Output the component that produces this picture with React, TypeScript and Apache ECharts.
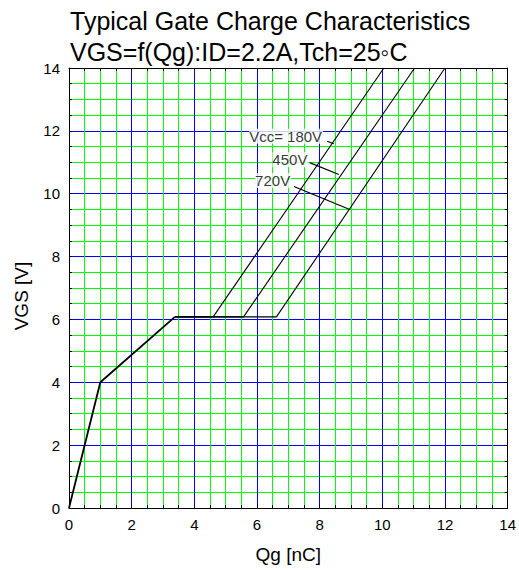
import React, { useEffect, useRef } from "react";
import * as echarts from "echarts";

// Common part of the gate-charge curve (Qg [nC], VGS [V])
const commonPath: number[][] = [
  [0, 0],
  [1, 4],
  [3.38, 6.08],
];
// Plateau end and rise for each Vcc
const vcc180: number[][] = [
  [4.6, 6.08],
  [10.05, 14],
];
const vcc450: number[][] = [
  [5.57, 6.08],
  [11.03, 14],
];
const vcc720: number[][] = [
  [6.62, 6.08],
  [12.0, 14],
];

const labelNames = ["Vcc= 180V", "450V", "720V"];
const labelAnchors: number[][] = [
  [5.75, 11.83],
  [6.49, 11.08],
  [5.94, 10.42],
];
const leaderLines: number[][][] = [
  [
    [8.24, 11.67],
    [8.45, 11.59],
  ],
  [
    [7.68, 10.99],
    [8.61, 10.61],
  ],
  [
    [7.18, 10.23],
    [8.98, 9.49],
  ],
];

const titleLines = [
  "Typical Gate Charge Characteristics",
  "VGS=f(Qg):ID=2.2A,Tch=25\u25E6C",
];
const xName = "Qg [nC]";
const yName = "VGS [V]";

const FONT = "Arial, 'Liberation Sans', Helvetica, sans-serif";
const GRID_COLORS = ["#0000ff", "#00ff00", "#00ff00", "#00ff00"];

export default function App() {
  const ref = useRef<HTMLDivElement>(null);
  useEffect(() => {
    document.body.style.margin = "0";
    if (!ref.current) return;
    const chart = echarts.init(ref.current, undefined, { renderer: "svg" });

    const labelFmt = (v: number) => (Math.abs(v % 2) < 1e-9 ? String(v) : "");

    const mainAxisCommon = {
      min: 0,
      max: 14,
      interval: 0.5,
      axisLine: { show: true, onZero: false, lineStyle: { color: "#000", width: 1 } },
      axisTick: { show: true, inside: true, length: 3, lineStyle: { color: "#000" } },
      minorTick: { show: false },
      splitLine: {
        show: true,
        showMinLine: true,
        showMaxLine: true,
        lineStyle: { color: GRID_COLORS, width: 1 },
      },
      minorSplitLine: { show: false },
      axisLabel: {
        color: "#000",
        fontSize: 15,
        fontFamily: FONT,
        margin: 9,
        formatter: labelFmt,
        showMinLabel: true,
        showMaxLabel: true,
        hideOverlap: false,
        interval: 0,
      },
    };
    const sideAxisCommon = {
      min: 0,
      max: 14,
      interval: 0.5,
      axisLine: { show: true, onZero: false, lineStyle: { color: "#000", width: 1 } },
      axisTick: { show: true, inside: true, length: 3, lineStyle: { color: "#000" } },
      minorTick: { show: false },
      splitLine: { show: false },
      minorSplitLine: { show: false },
      axisLabel: { show: false },
    };

    const lastCommon = commonPath[commonPath.length - 1];

    const series: any[] = [
      {
        type: "line",
        data: commonPath,
        showSymbol: false,
        symbol: "none",
        silent: true,
        lineStyle: { color: "#000", width: 1.8 },
        z: 5,
      },
    ];
    [vcc180, vcc450, vcc720].forEach((b) => {
      series.push({
        type: "line",
        data: [lastCommon, ...b],
        showSymbol: false,
        symbol: "none",
        silent: true,
        lineStyle: { color: "#000", width: 1.1 },
        z: 5,
      });
    });
    leaderLines.forEach((l) => {
      series.push({
        type: "line",
        data: l,
        showSymbol: false,
        symbol: "none",
        silent: true,
        lineStyle: { color: "#000", width: 1.2 },
        z: 5,
      });
    });
    series.push({
      type: "scatter",
      symbolSize: 0,
      silent: true,
      data: labelAnchors.map((p, i) => ({ value: p, name: labelNames[i] })),
      label: {
        show: true,
        position: "right",
        distance: 0,
        formatter: (p: any) => p.name,
        color: "#000",
        fontSize: 15,
        fontFamily: FONT,
        backgroundColor: "#fff",
        padding: [0, 1, 0, 0],
      },
      z: 6,
    });

    chart.setOption({
      animation: false,
      backgroundColor: "#fff",
      title: {
        text: titleLines.join("\n"),
        left: 70,
        top: 5,
        padding: 0,
        textStyle: {
          fontSize: 25,
          lineHeight: 31,
          fontWeight: "normal",
          color: "#000",
          fontFamily: FONT,
        },
      },
      grid: { left: 69, top: 68, width: 440, height: 440, containLabel: false },
      xAxis: [
        {
          type: "value",
          position: "bottom",
          name: xName,
          nameLocation: "middle",
          nameGap: 37,
          nameTextStyle: { fontSize: 19, color: "#000", fontFamily: FONT },
          ...mainAxisCommon,
        },
        { type: "value", position: "top", ...sideAxisCommon },
      ],
      yAxis: [
        {
          type: "value",
          position: "left",
          ...mainAxisCommon,
        },
        { type: "value", position: "right", ...sideAxisCommon },
      ],
      graphic: [
        {
          type: "text",
          x: 21,
          y: 296,
          rotation: Math.PI / 2,
          style: {
            text: yName,
            fontSize: 19,
            fontFamily: FONT,
            fill: "#000",
            align: "center",
            verticalAlign: "middle",
          },
        },
      ],
      series,
    });
    return () => chart.dispose();
  }, []);
  return <div ref={ref} style={{ width: 519, height: 570 }} />;
}
